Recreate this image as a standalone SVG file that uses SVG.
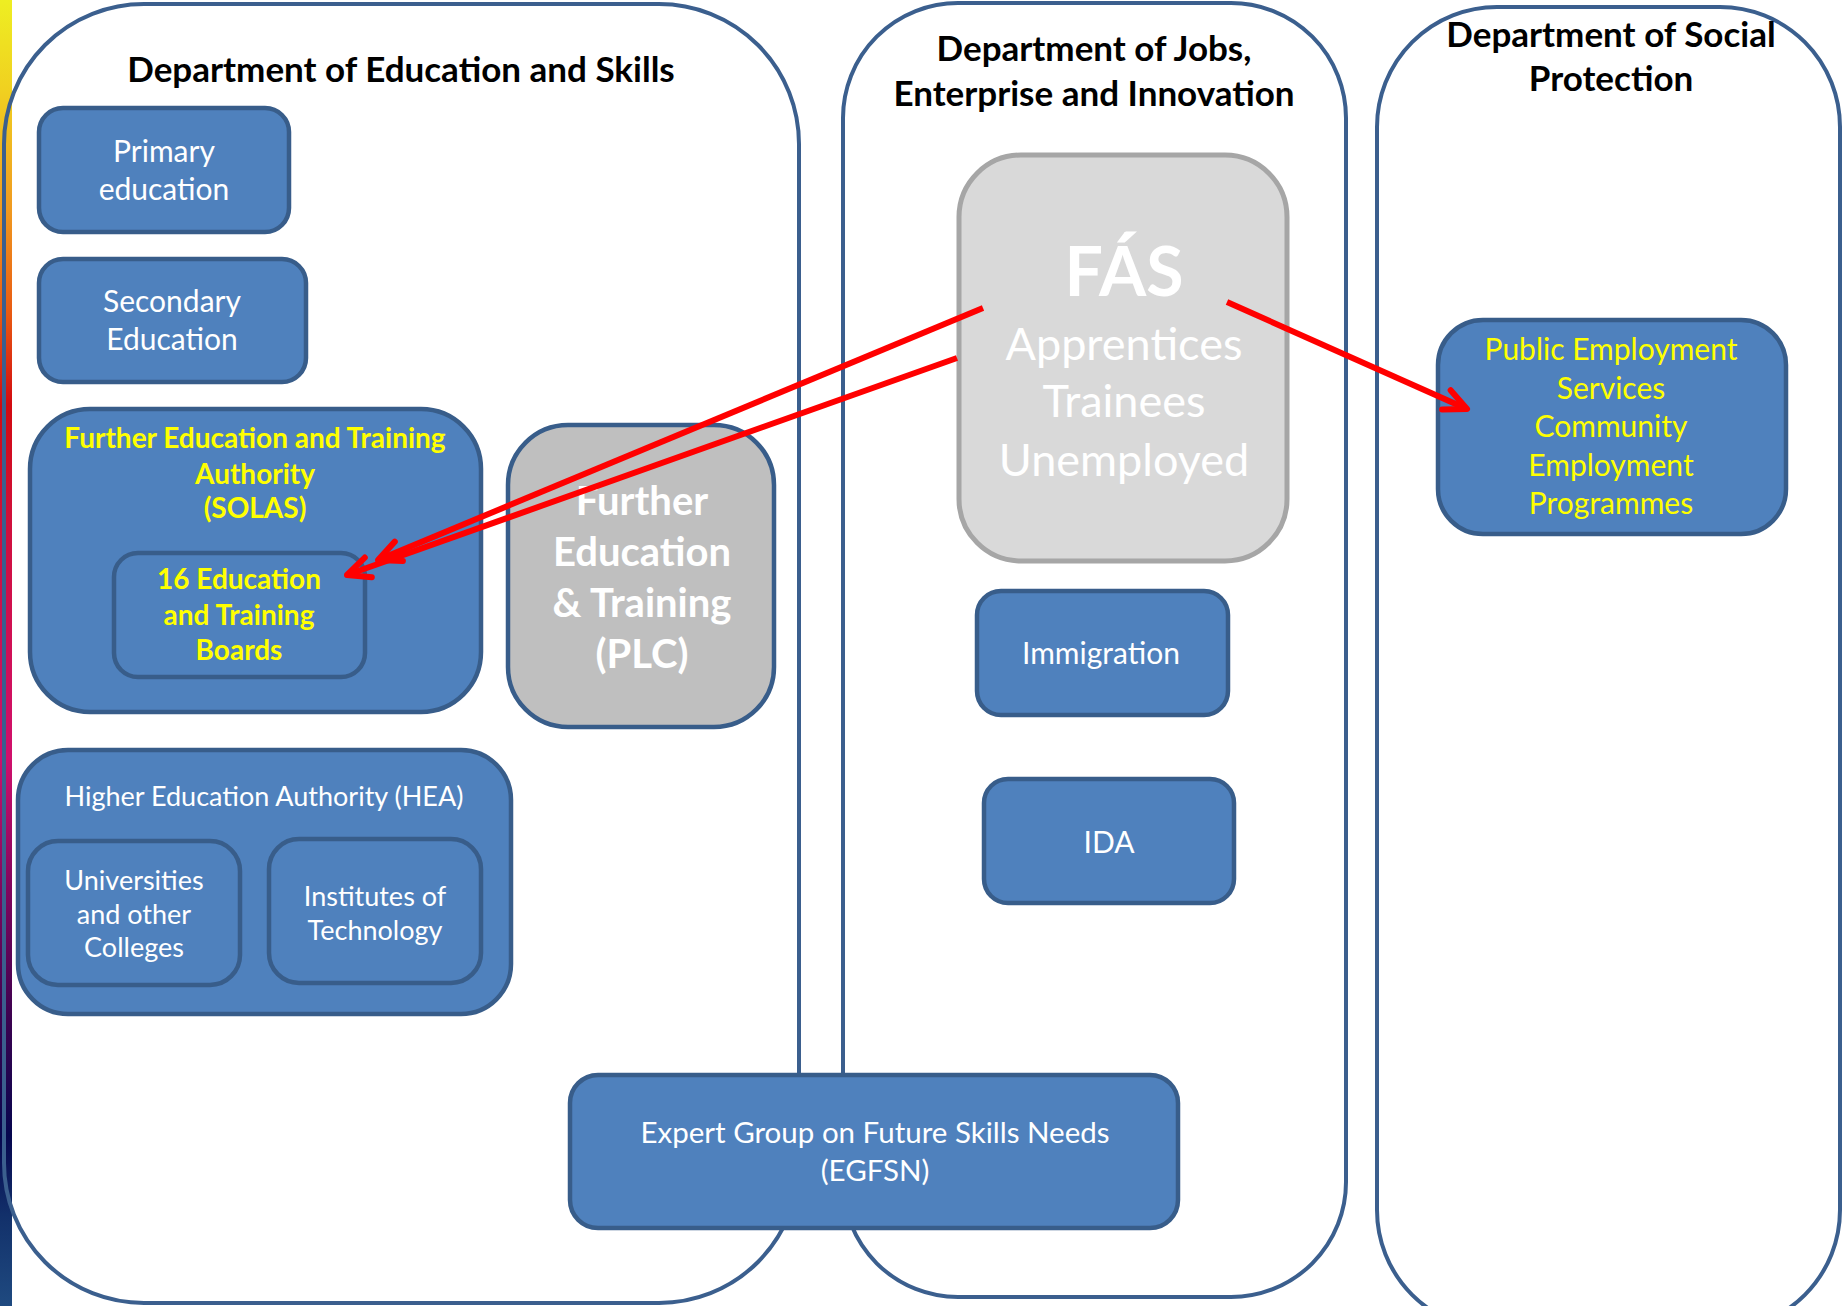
<svg xmlns="http://www.w3.org/2000/svg" width="1845" height="1306" viewBox="0 0 1845 1306">
<defs>
<linearGradient id="bar" x1="0" y1="0" x2="0" y2="1">
<stop offset="0" stop-color="#eeee22"/>
<stop offset="0.07" stop-color="#f0d020"/>
<stop offset="0.16" stop-color="#f09a20"/>
<stop offset="0.24" stop-color="#e85a12"/>
<stop offset="0.31" stop-color="#d20a10"/>
<stop offset="0.40" stop-color="#d0103c"/>
<stop offset="0.58" stop-color="#d0106c"/>
<stop offset="0.68" stop-color="#82065e"/>
<stop offset="0.78" stop-color="#3c0250"/>
<stop offset="0.87" stop-color="#06064e"/>
<stop offset="0.93" stop-color="#12306a"/>
<stop offset="1" stop-color="#1f4a80"/>
</linearGradient>
<marker id="arr" markerUnits="userSpaceOnUse" viewBox="-30 -15 36 30" refX="0" refY="0" markerWidth="36" markerHeight="30" orient="auto">
<path d="M -22.6 -10.5 L 0 0 L -22.6 10.5" fill="none" stroke="#ff0000" stroke-width="6" stroke-linecap="round" stroke-linejoin="round"/>
</marker>
<style>
.panel{fill:none;stroke:#3b5f8e;stroke-width:4}
.box{fill:#4f81bd;stroke:#385d8a;stroke-width:4.5}
.gray{fill:#bfbfbf;stroke:#385d8a;stroke-width:4.5}
.fas{fill:#d9d9d9;stroke:#a6a6a6;stroke-width:5}
.t{font-family:Lato,"Open Sans","Liberation Sans",sans-serif;text-anchor:middle}
.title{font-size:35px;font-weight:bold;fill:#000}
.w{fill:#ffffff}
.y{fill:#ffff00}
.b{font-weight:bold}
.arrow{fill:none;stroke:#ff0000;stroke-width:6;marker-end:url(#arr)}
</style>
</defs>
<rect x="0" y="0" width="1845" height="1306" fill="#ffffff"/>
<rect x="0" y="0" width="12" height="1306" fill="url(#bar)"/>

<g id="dept-education">
<rect class="panel" x="4" y="4" width="795" height="1299" rx="140" ry="140"/>
<text class="t title" x="401" y="82">Department of Education and Skills</text>
</g>
<g id="dept-jobs">
<rect class="panel" x="843" y="3" width="503" height="1294" rx="115" ry="115"/>
<text class="t title" x="1094" y="61">Department of Jobs,</text>
<text class="t title" x="1094" y="106">Enterprise and Innovation</text>
</g>
<g id="dept-social">
<rect class="panel" x="1377" y="7" width="463" height="1323" rx="120" ry="120"/>
<text class="t title" x="1611" y="47">Department of Social</text>
<text class="t title" x="1611" y="91">Protection</text>
</g>

<g id="primary">
<rect class="box" x="39" y="108" width="250" height="124" rx="24"/>
<text class="t w" font-size="30" x="164" y="162">Primary</text>
<text class="t w" font-size="30" x="164" y="200">education</text>
</g>
<g id="secondary">
<rect class="box" x="39" y="259" width="267" height="123" rx="24"/>
<text class="t w" font-size="30" x="172" y="312">Secondary</text>
<text class="t w" font-size="30" x="172" y="350">Education</text>
</g>
<g id="solas">
<rect class="box" x="30" y="409" width="451" height="303" rx="60"/>
<text class="t y b" font-size="28" x="255" y="448">Further Education and Training</text>
<text class="t y b" font-size="28" x="255" y="484">Authority</text>
<text class="t y b" font-size="28" x="255" y="518">(SOLAS)</text>
</g>
<g id="etb">
<rect class="box" x="114" y="553" width="251" height="124" rx="24"/>
<text class="t y b" font-size="28" x="239" y="589">16 Education</text>
<text class="t y b" font-size="28" x="239" y="625">and Training</text>
<text class="t y b" font-size="28" x="239" y="660">Boards</text>
</g>
<g id="plc">
<rect class="gray" x="508" y="425" width="266" height="302" rx="60"/>
<text class="t w b" font-size="40" x="642" y="515">Further</text>
<text class="t w b" font-size="40" x="642" y="566">Education</text>
<text class="t w b" font-size="40" x="642" y="617">&amp; Training</text>
<text class="t w b" font-size="40" x="642" y="668">(PLC)</text>
</g>
<g id="hea">
<rect class="box" x="18" y="750" width="493" height="264" rx="50"/>
<text class="t w" font-size="27" x="264" y="806">Higher Education Authority (HEA)</text>
</g>
<g id="universities">
<rect class="box" x="28" y="841" width="212" height="144" rx="30"/>
<text class="t w" font-size="27" x="134" y="890">Universities</text>
<text class="t w" font-size="27" x="134" y="924">and other</text>
<text class="t w" font-size="27" x="134" y="957">Colleges</text>
</g>
<g id="institutes">
<rect class="box" x="269" y="839" width="212" height="144" rx="30"/>
<text class="t w" font-size="27" x="375" y="906">Institutes of</text>
<text class="t w" font-size="27" x="375" y="940">Technology</text>
</g>
<g id="fas">
<rect class="fas" x="959" y="155" width="328" height="406" rx="62"/>
<text class="t w b" font-size="68" x="1124" y="296">FÁS</text>
<text class="t w" font-size="45" x="1124" y="360">Apprentices</text>
<text class="t w" font-size="45" x="1124" y="417">Trainees</text>
<text class="t w" font-size="45" x="1124" y="476">Unemployed</text>
</g>
<g id="immigration">
<rect class="box" x="977" y="591" width="251" height="124" rx="24"/>
<text class="t w" font-size="30" x="1101" y="664">Immigration</text>
</g>
<g id="ida">
<rect class="box" x="984" y="779" width="250" height="124" rx="24"/>
<text class="t w" font-size="30" x="1109" y="853">IDA</text>
</g>
<g id="public-employment">
<rect class="box" x="1438" y="320" width="348" height="214" rx="45"/>
<text class="t y" font-size="30" x="1611" y="360">Public Employment</text>
<text class="t y" font-size="30" x="1611" y="399">Services</text>
<text class="t y" font-size="30" x="1611" y="437">Community</text>
<text class="t y" font-size="30" x="1611" y="476">Employment</text>
<text class="t y" font-size="30" x="1611" y="514">Programmes</text>
</g>
<g id="egfsn">
<rect class="box" x="570" y="1075" width="608" height="153" rx="28"/>
<text class="t w" font-size="29.5" x="875" y="1143">Expert Group on Future Skills Needs</text>
<text class="t w" font-size="29.5" x="875" y="1181">(EGFSN)</text>
</g>

<g id="connectors">
<line class="arrow" x1="983" y1="308" x2="378" y2="560"/>
<line class="arrow" x1="957" y1="358" x2="347" y2="575"/>
<line class="arrow" x1="1227" y1="302" x2="1467" y2="409"/>
</g>
</svg>
